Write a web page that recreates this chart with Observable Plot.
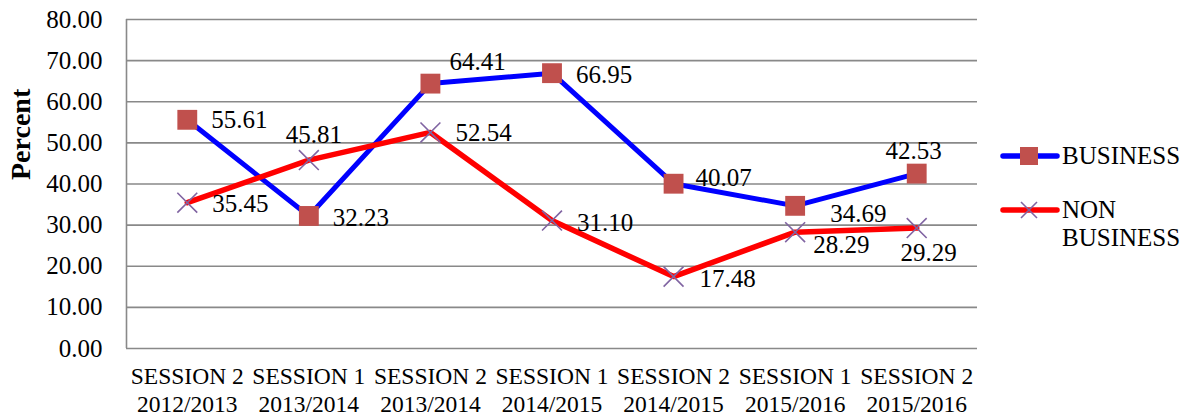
<!DOCTYPE html>
<html>
<head>
<meta charset="utf-8">
<script src="https://cdn.jsdelivr.net/npm/d3@7"></script>
<script src="https://cdn.jsdelivr.net/npm/@observablehq/plot@0.6"></script>
<style>
  html, body { margin: 0; padding: 0; background: #fff; }
  #wrap { position: relative; width: 1194px; height: 416px; font-family: "Liberation Serif", "Times New Roman", serif; }
  #chart svg text { font-family: "Liberation Serif", "Times New Roman", serif; }
  #legend { position: absolute; left: 1000px; top: 0; font-size: 25px; color: #000; }
  .item { position: absolute; left: 0; white-space: nowrap; }
  .item svg { position: absolute; left: 0; top: 0; overflow: visible; }
  .item span { position: absolute; left: 62px; line-height: 28px; }
</style>
</head>
<body>
<div id="wrap">
  <div id="chart"></div>
  <div id="legend"></div>
</div>
<script>
// ---- data ----
const sessions = ["SESSION 2", "SESSION 1", "SESSION 2", "SESSION 1", "SESSION 2", "SESSION 1", "SESSION 2"];
const years = ["2012/2013", "2013/2014", "2013/2014", "2014/2015", "2014/2015", "2015/2016", "2015/2016"];
const business = [55.61, 32.23, 64.41, 66.95, 40.07, 34.69, 42.53];
const nonBusiness = [35.45, 45.81, 52.54, 31.10, 17.48, 28.29, 29.29];
const yTicks = [0, 10, 20, 30, 40, 50, 60, 70, 80];
const seriesNames = ["BUSINESS", "NON BUSINESS"];
const yLabel = "Percent";

// ---- label placement (style) ----
const bizLabelPos = [[24, 0, "start"], [24, 2, "start"], [19, -22, "start"], [24, 2, "start"], [22, -6, "start"], [35, 8, "start"], [-3, -23, "middle"]];
const nonLabelPos = [[25, 1, "start"], [5, -25, "middle"], [25, 1, "start"], [25, 2, "start"], [26, 2, "start"], [18, 13, "start"], [12, 25, "middle"]];

const bizData = business.map((v, i) => ({i, v}));
const nonData = nonBusiness.map((v, i) => ({i, v}));

const FONT = "'Liberation Serif', 'Times New Roman', serif";
const BLUE = "#0000FF", RED = "#FF0000", SQ = "#C0504D", CROSS = "#8064A2", GRID = "#898989";

function labelMarks(data, pos) {
  return data.map((d, k) => Plot.text([d], {
    x: "i", y: "v", text: r => r.v.toFixed(2),
    dx: pos[k][0], dy: pos[k][1], textAnchor: pos[k][2],
    fontSize: 25, fill: "#000", fontFamily: FONT
  }));
}

const chart = Plot.plot({
  width: 1194,
  height: 416,
  marginLeft: 126,
  marginRight: 217,
  marginTop: 19,
  marginBottom: 68,
  style: {fontFamily: FONT, background: "white", color: "#000", overflow: "visible"},
  x: {domain: [-0.5, sessions.length - 0.5], axis: null},
  y: {domain: [0, 80], axis: null},
  marks: [
    Plot.ruleY(yTicks, {stroke: GRID, strokeWidth: 1.6}),
    Plot.ruleX([-0.5], {y1: 0, y2: 80, stroke: GRID, strokeWidth: 1.6}),
    Plot.axisY({ticks: yTicks, tickFormat: d => d.toFixed(2), tickSize: 0, tickPadding: 24, fontSize: 25, fontFamily: FONT, label: null}),
    Plot.axisX({ticks: d3.range(sessions.length), tickFormat: i => sessions[i] + "\n" + years[i], tickSize: 0, tickPadding: 16, fontSize: 23.5, fontFamily: FONT, lineHeight: 1.17, label: null}),
    Plot.text([yLabel], {frameAnchor: "left", dx: -105, dy: -4, rotate: -90, fontSize: 28, fontWeight: "bold", fontFamily: FONT, fill: "#000"}),
    Plot.line(bizData, {x: "i", y: "v", stroke: BLUE, strokeWidth: 5, strokeLinejoin: "round", strokeLinecap: "round"}),
    Plot.line(nonData, {x: "i", y: "v", stroke: RED, strokeWidth: 5.5, strokeLinejoin: "round", strokeLinecap: "round"}),
    Plot.dot(bizData, {x: "i", y: "v", symbol: "square", r: 11.2, fill: SQ, stroke: null}),
    Plot.dot(nonData, {x: "i", y: "v", symbol: "times", r: 9.1, stroke: CROSS, strokeWidth: 1.6, fill: "none"}),
    ...labelMarks(bizData, bizLabelPos),
    ...labelMarks(nonData, nonLabelPos)
  ]
});
document.getElementById("chart").appendChild(chart);

// ---- legend (HTML) ----
const legend = document.getElementById("legend");
legend.innerHTML = `
  <div class="item" style="top:142px;">
    <svg width="60" height="28"><line x1="3" x2="57" y1="14" y2="14" stroke="${BLUE}" stroke-width="5.5" stroke-linecap="round"/><rect x="20" y="5" width="18" height="18" fill="${SQ}"/></svg>
    <span style="top:0">${seriesNames[0]}</span>
  </div>
  <div class="item" style="top:196px;">
    <svg width="60" height="28"><line x1="3" x2="57" y1="14" y2="14" stroke="${RED}" stroke-width="5.5" stroke-linecap="round"/><path d="M21,6L37,22M21,22L37,6" stroke="${CROSS}" stroke-width="1.6"/></svg>
    <span style="top:0">${seriesNames[1].replace(" ", "<br>")}</span>
  </div>`;
</script>
</body>
</html>
